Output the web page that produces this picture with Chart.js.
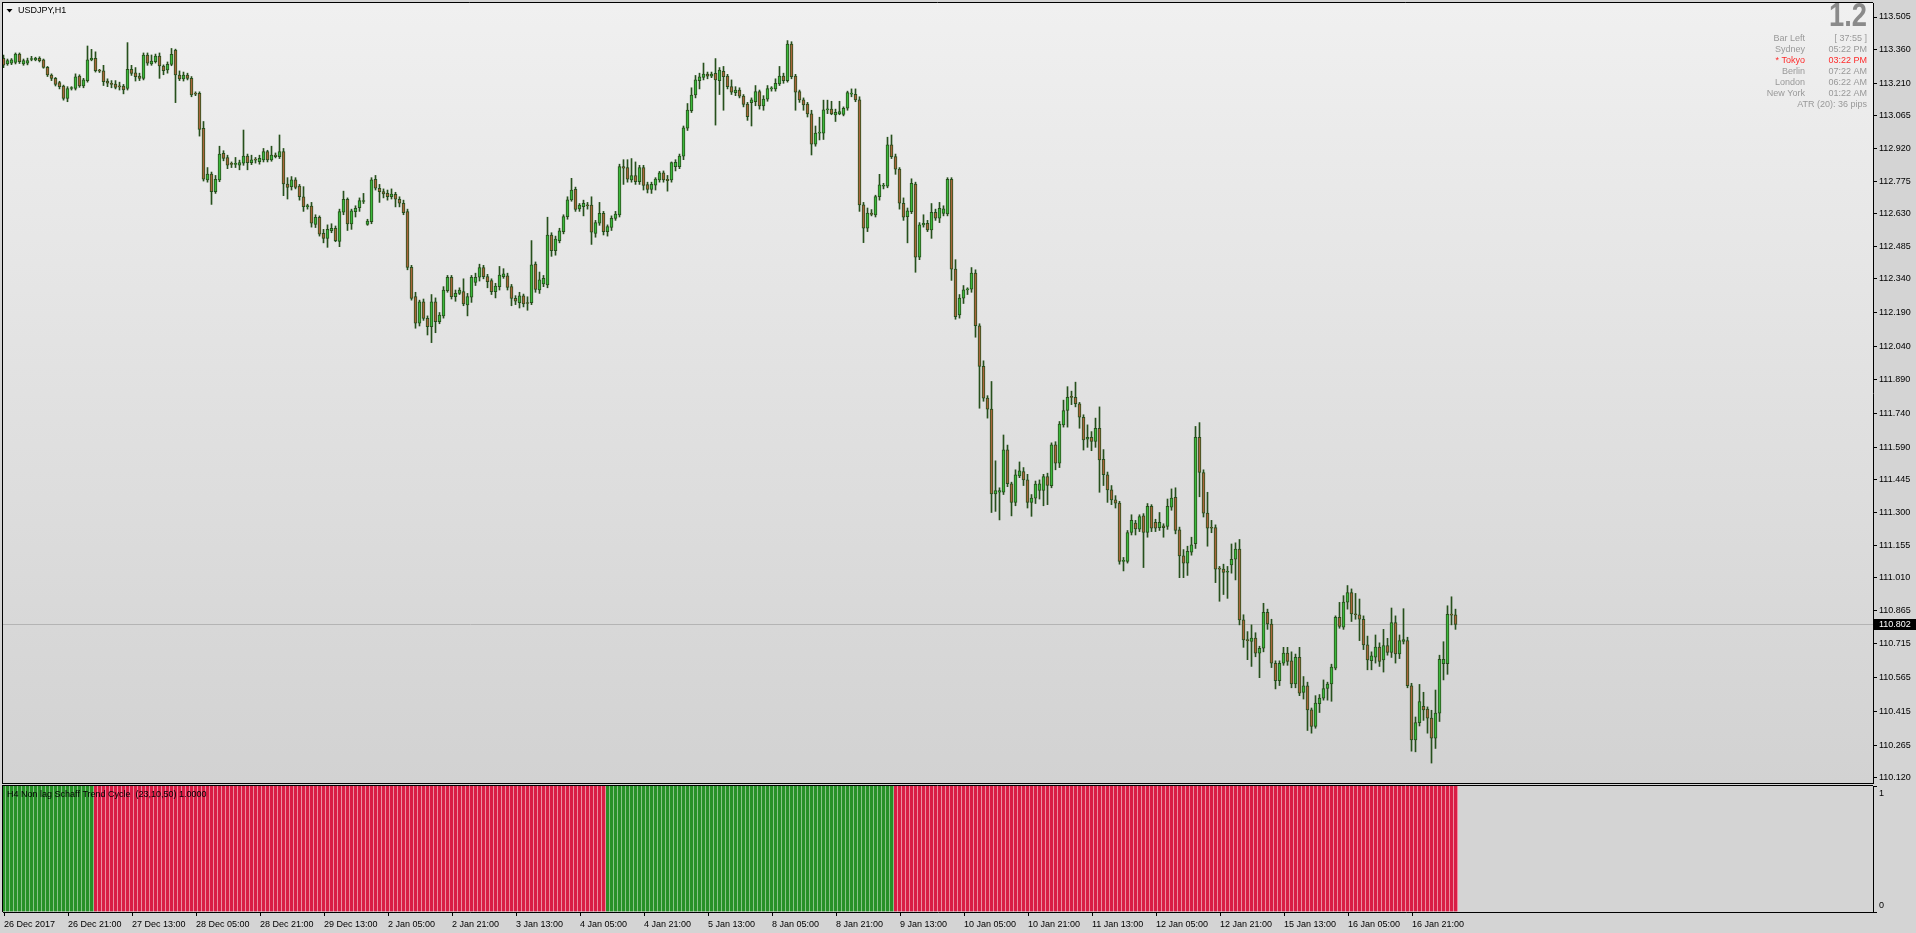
<!DOCTYPE html>
<html>
<head>
<meta charset="utf-8">
<script src="https://cdn.jsdelivr.net/npm/chart.js@4.4.0/dist/chart.umd.min.js"></script>
<style>
html, body { margin: 0; padding: 0; width: 1916px; height: 933px; overflow: hidden; background: #d4d4d4; }
#main { position: absolute; left: 0; top: 0; }
#ind { position: absolute; left: 0; top: 785px; }
</style>
</head>
<body>
<canvas id="main" width="1916" height="785"></canvas>
<canvas id="ind" width="1916" height="148"></canvas>
<script>
// USDJPY H1 candles (bar 0 = 26 Dec 05:00)
var opens = [
113.321,113.296,113.299,113.303,113.340,113.296,113.299,113.316,113.314,113.321,
113.314,113.281,113.247,113.232,113.213,113.198,113.143,113.187,113.187,113.242,
113.198,113.222,113.314,113.321,113.266,113.266,113.220,113.210,113.207,113.198,
113.198,113.187,113.272,113.257,113.242,113.232,113.336,113.296,113.306,113.331,
113.287,113.269,113.294,113.358,113.247,113.229,113.247,113.232,113.165,113.165,
113.010,112.780,112.806,112.728,112.780,112.898,112.879,112.851,112.849,112.846,
112.854,112.886,112.857,112.869,112.861,112.869,112.906,112.869,112.891,112.884,
112.906,112.762,112.750,112.780,112.753,112.705,112.661,112.664,112.582,112.614,
112.542,112.520,112.554,112.565,112.506,112.636,112.694,112.584,112.639,112.657,
112.684,112.582,112.594,112.783,112.743,112.728,112.720,112.705,112.716,112.694,
112.676,112.639,112.391,112.261,112.142,112.238,112.164,112.127,112.238,112.149,
112.175,112.287,112.347,112.261,112.275,112.283,112.224,112.258,112.324,112.347,
112.390,112.350,112.332,112.283,112.305,112.350,112.353,112.305,112.253,112.234,
112.264,112.234,112.234,112.405,112.290,112.317,112.313,112.535,112.465,112.510,
112.550,112.617,112.691,112.738,112.651,112.661,112.668,112.668,112.542,112.587,
112.631,112.550,112.569,112.609,112.624,112.839,112.835,112.780,112.799,112.772,
112.835,112.759,112.738,112.757,112.780,112.812,112.783,112.780,112.839,112.839,
112.886,113.010,113.088,113.158,113.222,113.236,113.251,113.242,113.254,113.222,
113.263,113.242,113.195,113.168,113.180,113.153,113.118,113.124,113.128,113.173,
113.109,113.139,113.185,113.185,113.207,113.242,113.222,113.385,113.242,113.173,
113.136,113.118,113.074,112.939,112.988,112.988,113.092,113.095,113.069,113.074,
113.072,113.099,113.162,113.161,113.136,112.669,112.565,112.632,112.624,112.706,
112.752,112.752,112.936,112.884,112.828,112.676,112.617,112.639,112.762,112.436,
112.580,112.587,112.558,112.636,112.610,112.631,112.629,112.783,112.383,112.179,
112.254,112.291,112.294,112.365,112.131,111.950,111.809,111.760,111.383,111.390,
111.390,111.579,111.428,111.345,111.463,111.482,111.445,111.345,111.364,111.398,
111.398,111.460,111.419,111.601,111.520,111.690,111.754,111.813,111.813,111.784,
111.724,111.626,111.635,111.616,111.675,111.537,111.468,111.401,111.356,111.342,
111.082,111.082,111.211,111.253,111.226,111.285,111.211,111.327,111.256,111.233,
111.241,111.238,111.324,111.368,111.223,111.107,111.075,111.124,111.161,111.635,
111.478,111.297,111.233,111.233,111.052,111.048,111.034,111.067,111.092,111.137,
110.822,110.732,110.726,110.741,110.674,110.696,110.856,110.804,110.629,110.552,
110.629,110.674,110.640,110.537,110.656,110.499,110.529,110.422,110.348,110.449,
110.474,110.517,110.537,110.607,110.834,110.790,110.901,110.944,110.849,110.845,
110.825,110.711,110.641,110.656,110.701,110.644,110.708,110.677,110.810,110.671,
110.726,110.730,110.529,110.288,110.365,110.437,110.425,110.385,110.296,110.407,
110.627,110.627,110.847,110.845
];
var highs = [
113.335,113.318,113.320,113.345,113.345,113.318,113.322,113.330,113.326,113.328,
113.318,113.285,113.252,113.236,113.219,113.202,113.195,113.195,113.252,113.248,
113.232,113.376,113.361,113.350,113.272,113.290,113.230,113.222,113.222,113.215,
113.205,113.391,113.290,113.280,113.255,113.345,113.345,113.336,113.340,113.345,
113.292,113.305,113.365,113.362,113.265,113.260,113.255,113.240,113.172,113.172,
113.040,112.835,112.815,112.800,112.930,112.910,112.890,112.860,112.880,112.868,
113.002,112.895,112.890,112.880,112.890,112.920,112.912,112.930,112.900,112.980,
112.920,112.790,112.795,112.790,112.760,112.750,112.672,112.680,112.625,112.620,
112.560,112.580,112.585,112.575,112.650,112.730,112.700,112.650,112.665,112.700,
112.720,112.605,112.790,112.800,112.760,112.740,112.735,112.740,112.725,112.705,
112.690,112.650,112.400,112.280,112.245,112.250,112.175,112.270,112.255,112.190,
112.305,112.355,112.355,112.290,112.300,112.340,112.275,112.355,112.365,112.405,
112.400,112.360,112.340,112.320,112.395,112.385,112.365,112.315,112.265,112.280,
112.272,112.260,112.510,112.415,112.370,112.355,112.614,112.545,112.530,112.565,
112.625,112.705,112.787,112.748,112.675,112.690,112.680,112.705,112.600,112.680,
112.640,112.580,112.620,112.640,112.850,112.870,112.870,112.875,112.860,112.845,
112.845,112.770,112.770,112.790,112.818,112.820,112.800,112.860,112.870,112.895,
113.020,113.120,113.190,113.245,113.255,113.300,113.260,113.260,113.320,113.280,
113.285,113.250,113.225,113.195,113.190,113.160,113.125,113.145,113.200,113.180,
113.155,113.200,113.195,113.230,113.285,113.255,113.400,113.395,113.250,113.180,
113.145,113.125,113.090,113.020,113.059,113.135,113.135,113.130,113.095,113.130,
113.105,113.175,113.185,113.185,113.150,112.680,112.655,112.648,112.712,112.805,
112.765,112.970,112.980,112.895,112.835,112.700,112.655,112.785,112.770,112.590,
112.625,112.600,112.675,112.650,112.680,112.665,112.790,112.790,112.425,112.270,
112.310,112.300,112.390,112.380,112.140,111.975,111.820,111.883,111.530,111.410,
111.645,111.600,111.435,111.490,111.525,111.500,111.470,111.380,111.440,111.445,
111.470,111.475,111.610,111.615,111.705,111.800,111.860,111.840,111.880,111.790,
111.735,111.690,111.660,111.720,111.770,111.580,111.480,111.420,111.375,111.350,
111.100,111.220,111.290,111.265,111.290,111.295,111.340,111.335,111.270,111.300,
111.250,111.360,111.405,111.410,111.235,111.135,111.150,111.190,111.683,111.700,
111.490,111.390,111.265,111.245,111.060,111.070,111.060,111.160,111.165,111.180,
110.845,110.770,110.800,110.765,110.705,110.896,110.870,110.825,110.640,110.640,
110.700,110.700,110.680,110.670,110.700,110.570,110.545,110.430,110.485,110.490,
110.555,110.545,110.625,110.840,110.900,110.930,110.975,110.960,110.940,110.915,
110.840,110.750,110.680,110.755,110.720,110.780,110.740,110.875,110.840,110.755,
110.872,110.745,110.540,110.390,110.535,110.500,110.435,110.420,110.510,110.665,
110.725,110.885,110.925,110.870
];
var lows = [
113.280,113.290,113.293,113.296,113.298,113.290,113.292,113.310,113.310,113.305,
113.277,113.240,113.222,113.198,113.185,113.135,113.128,113.180,113.180,113.192,
113.190,113.215,113.310,113.260,113.258,113.200,113.195,113.190,113.185,113.180,
113.163,113.180,113.245,113.220,113.222,113.225,113.290,113.290,113.300,113.232,
113.248,113.255,113.288,113.124,113.222,113.220,113.225,113.150,113.155,112.975,
112.775,112.770,112.671,112.720,112.772,112.865,112.830,112.835,112.835,112.825,
112.845,112.825,112.848,112.855,112.850,112.860,112.860,112.863,112.878,112.875,
112.710,112.695,112.735,112.740,112.690,112.640,112.650,112.570,112.568,112.530,
112.500,112.480,112.545,112.505,112.483,112.625,112.555,112.560,112.615,112.640,
112.675,112.578,112.585,112.735,112.680,112.700,112.690,112.695,112.660,112.660,
112.625,112.380,112.245,112.120,112.130,112.155,112.090,112.056,112.100,112.140,
112.165,112.280,112.250,112.240,112.270,112.220,112.175,112.235,112.310,112.330,
112.340,112.300,112.270,112.255,112.290,112.342,112.290,112.220,112.225,112.210,
112.215,112.200,112.225,112.280,112.275,112.305,112.300,112.440,112.445,112.500,
112.540,112.605,112.685,112.640,112.640,112.620,112.650,112.493,112.525,112.578,
112.535,112.530,112.555,112.600,112.615,112.760,112.770,112.770,112.760,112.760,
112.735,112.722,112.720,112.735,112.770,112.770,112.730,112.770,112.820,112.830,
112.870,113.000,113.080,113.145,113.185,113.225,113.230,113.235,113.024,113.160,
113.090,113.185,113.160,113.155,113.145,113.105,113.045,113.020,113.110,113.095,
113.090,113.130,113.175,113.175,113.200,113.210,113.215,113.230,113.090,113.125,
113.090,113.060,112.891,112.930,112.958,112.960,113.075,113.070,113.040,113.070,
113.065,113.090,113.150,113.128,112.640,112.501,112.550,112.620,112.615,112.690,
112.740,112.745,112.875,112.805,112.650,112.600,112.500,112.630,112.369,112.425,
112.570,112.550,112.520,112.600,112.590,112.620,112.620,112.333,112.160,112.165,
112.230,112.270,112.280,112.080,111.764,111.795,111.720,111.300,111.305,111.267,
111.380,111.415,111.285,111.330,111.455,111.420,111.320,111.283,111.340,111.360,
111.330,111.335,111.410,111.490,111.500,111.680,111.680,111.780,111.770,111.675,
111.578,111.590,111.575,111.590,111.390,111.420,111.345,111.335,111.320,111.070,
111.040,111.075,111.200,111.200,111.215,111.055,111.190,111.215,111.215,111.220,
111.190,111.225,111.310,111.205,111.010,111.010,111.020,111.110,111.140,111.370,
111.280,111.150,111.210,110.988,110.905,110.935,110.918,111.030,111.000,110.800,
110.700,110.645,110.615,110.658,110.565,110.680,110.780,110.610,110.515,110.530,
110.620,110.620,110.520,110.520,110.485,110.470,110.330,110.318,110.340,110.410,
110.465,110.465,110.460,110.600,110.785,110.780,110.870,110.815,110.825,110.730,
110.690,110.600,110.600,110.630,110.615,110.590,110.665,110.655,110.630,110.650,
110.715,110.520,110.238,110.235,110.350,110.375,110.318,110.185,110.250,110.370,
110.555,110.580,110.800,110.780
];
var closes = [
113.291,113.311,113.314,113.340,113.306,113.311,113.311,113.318,113.321,113.311,
113.281,113.247,113.232,113.205,113.195,113.143,113.187,113.189,113.239,113.198,
113.225,113.314,113.321,113.266,113.264,113.217,113.210,113.205,113.192,113.194,
113.180,113.272,113.254,113.239,113.232,113.336,113.299,113.309,113.331,113.287,
113.266,113.294,113.339,113.247,113.229,113.247,113.232,113.158,113.162,113.005,
112.783,112.806,112.728,112.783,112.895,112.876,112.846,112.849,112.851,112.857,
112.886,112.857,112.869,112.868,112.876,112.906,112.869,112.891,112.884,112.906,
112.762,112.747,112.780,112.747,112.705,112.661,112.662,112.587,112.614,112.539,
112.520,112.560,112.565,112.510,112.639,112.694,112.584,112.642,112.654,112.688,
112.688,112.597,112.780,112.743,112.728,112.718,112.705,112.717,112.694,112.676,
112.634,112.391,112.253,112.142,112.238,112.164,112.127,112.238,112.149,112.179,
112.290,112.347,112.261,112.275,112.290,112.228,112.261,112.347,112.347,112.390,
112.350,112.327,112.283,112.308,112.357,112.362,112.302,112.253,112.240,112.264,
112.228,112.230,112.402,112.293,112.335,112.342,112.535,112.465,112.517,112.553,
112.617,112.691,112.735,112.649,112.668,112.676,112.665,112.547,112.590,112.631,
112.550,112.572,112.609,112.628,112.839,112.832,112.783,112.799,112.772,112.835,
112.756,112.738,112.760,112.784,112.812,112.780,112.777,112.857,112.858,112.886,
113.012,113.091,113.158,113.225,113.239,113.251,113.242,113.251,113.225,113.269,
113.239,113.195,113.170,113.180,113.153,113.116,113.061,113.136,113.173,113.109,
113.140,113.187,113.187,113.210,113.242,113.222,113.385,113.239,113.170,113.136,
113.114,113.074,112.939,112.988,112.990,113.092,113.095,113.074,113.081,113.084,
113.099,113.169,113.163,113.136,112.669,112.565,112.632,112.626,112.706,112.758,
112.756,112.936,112.884,112.828,112.676,112.614,112.642,112.765,112.436,112.580,
112.587,112.558,112.636,112.610,112.654,112.651,112.783,112.383,112.172,112.254,
112.291,112.294,112.365,112.131,111.950,111.809,111.760,111.383,111.398,111.398,
111.579,111.428,111.345,111.468,111.485,111.445,111.345,111.364,111.426,111.428,
111.460,111.420,111.601,111.520,111.693,111.754,111.813,111.812,111.784,111.724,
111.623,111.635,111.616,111.675,111.534,111.468,111.401,111.356,111.342,111.082,
111.087,111.211,111.265,111.227,111.282,111.211,111.327,111.230,111.230,111.256,
111.232,111.327,111.364,111.220,111.107,111.075,111.127,111.156,111.634,111.478,
111.297,111.230,111.230,111.048,111.048,111.033,111.035,111.092,111.137,110.822,
110.733,110.730,110.741,110.674,110.696,110.856,110.804,110.629,110.552,110.629,
110.674,110.637,110.537,110.656,110.496,110.529,110.422,110.348,110.452,110.474,
110.517,110.537,110.612,110.834,110.793,110.901,110.944,110.849,110.845,110.825,
110.711,110.644,110.662,110.701,110.637,110.708,110.677,110.810,110.671,110.730,
110.735,110.529,110.288,110.365,110.459,110.422,110.385,110.296,110.407,110.647,
110.647,110.847,110.843,110.802
];

var bidPrice = 110.802;
var priceTicks = [113.505,113.360,113.210,113.065,112.920,112.775,112.630,112.485,112.340,112.190,
  112.040,111.890,111.740,111.590,111.445,111.300,111.155,111.010,110.865,110.715,110.565,110.415,110.265,110.120];

var timeTickBars = [0,16,32,48,64,80,96,112,128,144,160,176,192,208,224,240,256,272,288,304,320,336,352];
var timeLabels = ['26 Dec 2017','26 Dec 21:00','27 Dec 13:00','28 Dec 05:00','28 Dec 21:00','29 Dec 13:00',
  '2 Jan 05:00','2 Jan 21:00','3 Jan 13:00','4 Jan 05:00','4 Jan 21:00','5 Jan 13:00','8 Jan 05:00',
  '8 Jan 21:00','9 Jan 13:00','10 Jan 05:00','10 Jan 21:00','11 Jan 13:00','12 Jan 05:00','12 Jan 21:00',
  '15 Jan 13:00','16 Jan 05:00','16 Jan 21:00'];

// Schaff trend cycle histogram: value 1 on every bar, colour by trend runs [first bar, last bar, trend]
var stcValue = 1.0;
var stcRuns = [[0, 22, 'up'], [23, 150, 'down'], [151, 222, 'up'], [223, 363, 'down']];

var infoRows = [
  ['Bar Left', '[ 37:55 ]'],
  ['Sydney', '05:22 PM'],
  ['* Tokyo', '03:22 PM'],
  ['Berlin', '07:22 AM'],
  ['London', '06:22 AM'],
  ['New York', '01:22 AM']
];

var FONT = 'Liberation Sans, Arial, sans-serif';
var X_MIN = -0.125, X_MAX = 467.375;

var bodies = [], wicks = [], bodyColors = [];
for (var i = 0; i < opens.length; i++) {
  bodies.push({x: i, y: [opens[i], closes[i]]});
  wicks.push({x: i, y: [lows[i], highs[i]]});
  bodyColors.push(closes[i] >= opens[i] ? '#3cb83c' : '#a9653b');
}

function fixWidth(w) {
  return function (scale) {
    scale.width = w;
    scale.paddingTop = 0; scale.paddingBottom = 0;
    scale.paddingLeft = 0; scale.paddingRight = 0;
  };
}

var mainDecor = {
  id: 'mainDecor',
  beforeDraw: function (chart) {
    var ctx = chart.ctx, a = chart.chartArea;
    var g = ctx.createLinearGradient(0, a.top, 0, a.bottom);
    g.addColorStop(0, '#f0f0f0');
    g.addColorStop(1, '#d2d2d2');
    ctx.save();
    ctx.fillStyle = g;
    ctx.fillRect(a.left, a.top, a.right - a.left, a.bottom - a.top);
    ctx.restore();
  },
  beforeDatasetsDraw: function (chart) {
    var ctx = chart.ctx, a = chart.chartArea;
    var y = Math.round(chart.scales.y.getPixelForValue(bidPrice)) + 0.5;
    ctx.save();
    ctx.strokeStyle = '#b4b4b4';
    ctx.lineWidth = 1;
    ctx.beginPath(); ctx.moveTo(a.left, y); ctx.lineTo(a.right, y); ctx.stroke();
    ctx.restore();
  },
  afterDraw: function (chart) {
    var ctx = chart.ctx, a = chart.chartArea;
    ctx.save();
    // frame
    ctx.strokeStyle = '#000';
    ctx.lineWidth = 1;
    ctx.beginPath();
    ctx.moveTo(2.5, 2); ctx.lineTo(2.5, 784);
    ctx.moveTo(2, 2.5); ctx.lineTo(a.right, 2.5);
    ctx.moveTo(2, 783.5); ctx.lineTo(a.right + 1, 783.5);
    ctx.stroke();

    // bid label on the price axis
    var y = Math.round(chart.scales.y.getPixelForValue(bidPrice));
    ctx.fillStyle = '#000';
    ctx.fillRect(a.right, y - 5, 1916 - a.right, 11);
    ctx.fillStyle = '#fff';
    ctx.font = '9px ' + FONT;
    ctx.textBaseline = 'middle';
    ctx.textAlign = 'left';
    ctx.fillText(bidPrice.toFixed(3), a.right + 6, y + 0.5);

    // symbol title
    ctx.fillStyle = '#000';
    ctx.beginPath(); ctx.moveTo(6.5, 9); ctx.lineTo(12.5, 9); ctx.lineTo(9.5, 12.5); ctx.closePath(); ctx.fill();
    ctx.fillText('USDJPY,H1', 18, 11);

    // info box top right
    ctx.fillStyle = '#8a8a8a';
    ctx.font = 'bold 33px ' + FONT;
    ctx.textBaseline = 'alphabetic';
    var w = ctx.measureText('1.2').width;
    ctx.save();
    ctx.translate(1867, 26);
    ctx.scale(38 / w, 1);
    ctx.textAlign = 'right';
    ctx.fillText('1.2', 0, 0);
    ctx.restore();

    ctx.font = '9px ' + FONT;
    ctx.textBaseline = 'middle';
    ctx.textAlign = 'right';
    for (var r = 0; r < infoRows.length; r++) {
      var ry = 39 + r * 10.9;
      ctx.fillStyle = infoRows[r][0].charAt(0) === '*' ? '#ff2a2a' : '#999999';
      ctx.fillText(infoRows[r][0], 1805, ry);
      ctx.fillText(infoRows[r][1], 1867, ry);
    }
    ctx.fillStyle = '#999999';
    ctx.fillText('ATR (20): 36 pips', 1867, 39 + 6 * 10.9);
    ctx.restore();
  }
};

new Chart(document.getElementById('main'), {
  type: 'bar',
  data: {
    datasets: [
      { data: bodies, grouped: false, order: 0, barThickness: 3, minBarLength: 1,
        backgroundColor: bodyColors, borderColor: '#27501c', borderWidth: 1, borderSkipped: false },
      { data: wicks, grouped: false, order: 1, barThickness: 1,
        backgroundColor: '#27501c', borderWidth: 0 }
    ]
  },
  options: {
    responsive: false,
    animation: false,
    events: [],
    layout: { padding: { left: 3, top: 3, bottom: 2, right: 0 } },
    plugins: { legend: { display: false }, tooltip: { enabled: false } },
    scales: {
      x: { type: 'linear', offset: false, min: X_MIN, max: X_MAX, display: false },
      y: {
        position: 'right',
        min: 110.0963, max: 113.5673,
        afterBuildTicks: function (s) { s.ticks = priceTicks.map(function (v) { return {value: v}; }); },
        afterFit: fixWidth(43),
        ticks: { autoSkip: false, padding: 2, color: '#000', font: { family: FONT, size: 9 },
                 callback: function (v) { return v.toFixed(3); } },
        grid: { drawOnChartArea: false, drawTicks: true, tickLength: 4, color: '#000' },
        border: { color: '#000', width: 1 }
      }
    }
  },
  plugins: [mainDecor]
});

// indicator panel: 4 px wide bars, 3 px colour plus a pale 1 px edge
var stcBars = [], stcColors = [], stcEdges = [];
stcRuns.forEach(function (run) {
  for (var k = run[0]; k <= run[1]; k++) {
    stcBars.push({x: k, y: [0, stcValue]});
    stcColors.push(run[2] === 'up' ? '#279127' : '#d91d45');
    stcEdges.push(run[2] === 'up' ? '#b9dcb9' : '#f3c3ce');
  }
});

var indDecor = {
  id: 'indDecor',
  beforeDraw: function (chart) {
    var ctx = chart.ctx, a = chart.chartArea;
    ctx.save();
    ctx.fillStyle = '#d4d4d4';
    ctx.fillRect(a.left, a.top, a.right - a.left, a.bottom - a.top);
    ctx.restore();
  },
  afterDraw: function (chart) {
    var ctx = chart.ctx, a = chart.chartArea;
    ctx.save();
    ctx.strokeStyle = '#000';
    ctx.lineWidth = 1;
    ctx.beginPath();
    ctx.moveTo(2, 0.5); ctx.lineTo(a.right, 0.5);
    ctx.moveTo(2.5, 0); ctx.lineTo(2.5, a.bottom);
    ctx.stroke();
    ctx.fillStyle = '#000';
    ctx.font = '9px ' + FONT;
    ctx.textBaseline = 'middle';
    ctx.textAlign = 'left';
    ctx.fillText('H4 Non lag Schaff Trend Cycle  (23,10,50) 1.0000', 7, 10);
    var ys = chart.scales.y;
    ctx.fillText('1', a.right + 6, ys.getPixelForValue(1) + 8);
    ctx.fillText('0', a.right + 6, ys.getPixelForValue(0) - 6);
    ctx.restore();
  }
};

new Chart(document.getElementById('ind'), {
  type: 'bar',
  data: {
    datasets: [
      { data: stcBars, grouped: false, barThickness: 4, backgroundColor: stcColors,
        borderColor: stcEdges, borderWidth: { left: 0, top: 0, bottom: 0, right: 1 }, borderSkipped: false }
    ]
  },
  options: {
    responsive: false,
    animation: false,
    events: [],
    layout: { padding: { left: 3, top: 1, bottom: 0, right: 0 } },
    plugins: { legend: { display: false }, tooltip: { enabled: false } },
    scales: {
      x: {
        type: 'linear', offset: false, min: X_MIN - 0.125, max: X_MAX - 0.125, position: 'bottom',
        afterBuildTicks: function (s) { s.ticks = timeTickBars.map(function (v) { return {value: v}; }); },
        afterFit: function (s) { s.height = 21; s.paddingLeft = 0; s.paddingRight = 0; },
        ticks: { autoSkip: false, maxRotation: 0, align: 'start', padding: 3, color: '#000',
                 font: { family: FONT, size: 9 },
                 callback: function (v, idx) { return timeLabels[idx]; } },
        grid: { offset: false, drawOnChartArea: false, drawTicks: true, tickLength: 4, color: '#000' },
        border: { color: '#000', width: 1 }
      },
      y: {
        position: 'right', min: 0, max: 1,
        afterBuildTicks: function (s) { s.ticks = [{value: 0}, {value: 1}]; },
        afterFit: fixWidth(43),
        ticks: { display: false },
        grid: { drawOnChartArea: false, drawTicks: true, tickLength: 4, color: '#000' },
        border: { color: '#000', width: 1 }
      }
    }
  },
  plugins: [indDecor]
});
</script>
</body>
</html>
